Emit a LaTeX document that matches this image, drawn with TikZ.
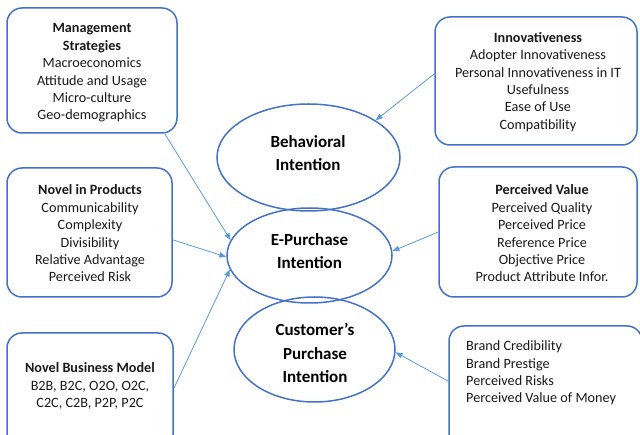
\documentclass[tikz,border=0pt]{standalone}
\usepackage{fontspec}
\setmainfont{Carlito}
\usetikzlibrary{arrows.meta,shapes.geometric}
\definecolor{boxblue}{HTML}{4472C4}
\definecolor{arrowblue}{HTML}{5B9BD5}
\begin{document}
\begin{tikzpicture}[x=1pt,y=-1pt,
  box/.style={draw=boxblue, line width=1.5pt, rounded corners=15pt, inner sep=0pt, rectangle},
  ell/.style={draw=boxblue, line width=1.5pt, ellipse, inner sep=0pt},
  txt/.style={align=center, inner sep=0pt, font=\fontsize{14.2}{17.4}\selectfont, text=black!90},
  etxt/.style={align=center, inner sep=0pt, font=\fontsize{17}{23.5}\selectfont\bfseries, text=black},
  arr/.style={draw=arrowblue, line width=0.8pt, -{Triangle[length=7pt,width=5.5pt]}}]
\useasboundingbox (0,0) rectangle (640,435);
% boxes
\node[box, minimum width=170pt, minimum height=125pt] (ms) at (92,70.5) {};
\node[box, minimum width=202pt, minimum height=128pt] (inn) at (536,81) {};
\node[box, minimum width=165pt, minimum height=129pt] (np) at (89.5,232.5) {};
\node[box, minimum width=198pt, minimum height=130pt] (pv) at (538,232) {};
\node[box, minimum width=166pt, minimum height=117pt] (bm) at (90,391.5) {};
\node[box, minimum width=193pt, minimum height=124pt] (br) at (545.5,388) {};
% ellipses
\node[ell, minimum width=183pt, minimum height=107pt] (bi) at (308.5,157.5) {};
\node[ell, minimum width=165pt, minimum height=95pt] (ep) at (309.5,255.5) {};
\node[ell, minimum width=161pt, minimum height=105pt] (cp) at (314.5,349.5) {};
% texts
\node[txt] (tms) at (92,73) {\textbf{Management}\\\textbf{Strategies}\\Macroeconomics\\Attitude and Usage\\Micro-culture\\Geo-demographics};
\node[txt] (tinn) at (538,82) {\textbf{Innovativeness}\\Adopter Innovativeness\\Personal Innovativeness in IT\\Usefulness\\Ease of Use\\Compatibility};
\node[txt] (tnp) at (90,233.5) {\textbf{Novel in Products}\\Communicability\\Complexity\\Divisibility\\Relative Advantage\\Perceived Risk};
\node[txt] (tpv) at (542,233.5) {\textbf{Perceived Value}\\Perceived Quality\\Perceived Price\\Reference Price\\Objective Price\\Product Attribute Infor.};
\node[txt] (tbm) at (90,386) {\textbf{Novel Business Model}\\B2B, B2C, O2O, O2C,\\C2C, C2B, P2P, P2C};
\node[txt, align=left, anchor=west] (tbr) at (466,373) {Brand Credibility\\Brand Prestige\\Perceived Risks\\Perceived Value of Money};
\node[etxt] (tbi) at (308,153) {Behavioral\\Intention};
\node[etxt] (tep) at (309.5,251) {E-Purchase\\Intention};
\node[etxt] (tcp) at (315,353) {Customer’s\\Purchase\\Intention};
% arrows
\draw[arr] (ms.-41.8) -- (ep.169.2);
\draw[arr] (np.-5.2) -- (ep.181);
\draw[arr] (bm.2.4) -- (ep.190.7);
\draw[arr] (inn.176.6) -- (bi.29.3);
\draw[arr] (pv.180) -- (ep.3.8);
\draw[arr] (br.176.4) -- (cp.-2.5);
\end{tikzpicture}
\end{document}
